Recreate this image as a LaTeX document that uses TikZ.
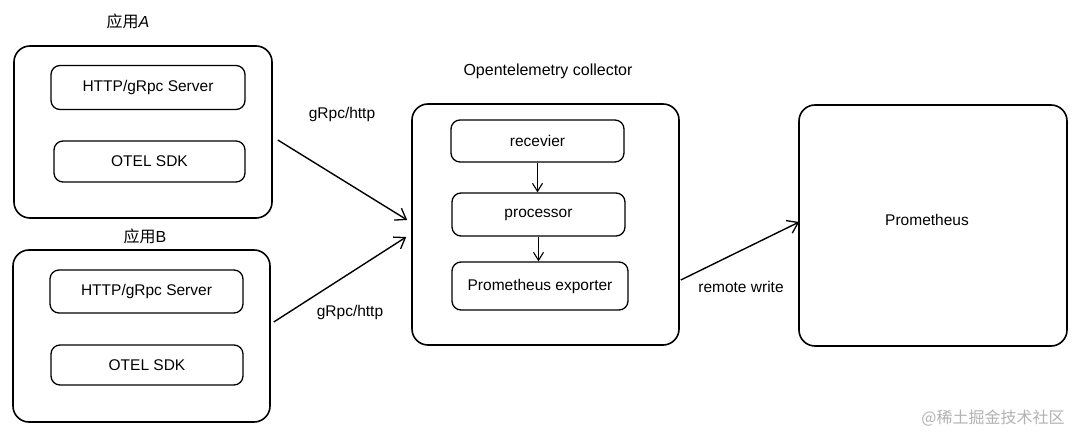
\documentclass[tikz,border=0pt]{standalone}
\usepackage{fontspec}
\setmainfont{Liberation Sans}
\newfontfamily\cjk{Noto Sans CJK SC}
\usetikzlibrary{arrows.meta,calc}
\begin{document}
\begin{tikzpicture}[x=1pt,y=-1pt,
  outerbox/.style={draw,line width=1.6pt,rounded corners=16pt,inner sep=0pt},
  innerbox/.style={draw,line width=1.3pt,rounded corners=9pt,inner sep=0pt,font=\fontsize{15.5}{17}\selectfont},
  lbl/.style={font=\fontsize{15.5}{17}\selectfont,inner sep=0pt},
  ttl/.style={font=\fontsize{16}{18}\selectfont,inner sep=0pt},
  conn/.style={line width=1.4pt,-{Straight Barb[length=10pt,width=14pt,line width=1.3pt]}},
  iconn/.style={line width=1.1pt,-{Straight Barb[length=8pt,width=10pt,line width=1.1pt]}}
]
\useasboundingbox (0,0) rectangle (1080,435);
\fill[white] (0,0) rectangle (1080,435);

% App A
\node[outerbox,minimum width=258pt,minimum height=172pt] (appA) at (143,132) {};
\node[innerbox,minimum width=194pt,minimum height=44pt] (srvA) at (148,87.5) {HTTP/gRpc Server};
\node[innerbox,minimum width=191pt,minimum height=41pt] (sdkA) at (149.5,161.5) {OTEL SDK};
\node[ttl] (tA) at (128,21) {{\cjk 应用}\textit{A}};

% App B
\node[outerbox,minimum width=257pt,minimum height=172pt] (appB) at (141.5,336) {};
\node[innerbox,minimum width=193pt,minimum height=43pt] (srvB) at (146.5,291.5) {HTTP/gRpc Server};
\node[innerbox,minimum width=192pt,minimum height=40pt] (sdkB) at (147,365) {OTEL SDK};
\node[ttl] (tB) at (145,236) {{\cjk 应用}B};

% Collector
\node[outerbox,minimum width=267pt,minimum height=241pt] (coll) at (545.5,224.5) {};
\node[ttl] (tC) at (548,71) {Opentelemetry collector};
\node[innerbox,minimum width=173pt,minimum height=42pt] (recv) at (537.5,141) {recevier};
\node[innerbox,minimum width=173pt,minimum height=43pt] (proc) at (538.5,214.5) {processor};
\node[innerbox,minimum width=176pt,minimum height=48pt] (expo) at (540,286) {Prometheus exporter};

% Prometheus
\node[outerbox,minimum width=268pt,minimum height=241pt] (prom) at (933,225.5) {};
\node[lbl] (promT) at (927,220) {Prometheus};

% connectors
\draw[conn] ($(appA.east)+(5,8)$) -- ($(coll.west)+(-4,-4.5)$);
\draw[conn] ($(appB.east)+(3,-14)$) -- ($(coll.west)+(-5,12.5)$);
\draw[conn] ($(coll.east)+(1,55.5)$) -- ($(prom.west)+(1,-3.5)$);
\draw[iconn] (recv.south) -- (recv.south |- proc.north);
\draw[iconn] (proc.south) -- (proc.south |- expo.north);

% connector labels
\node[lbl] (lA) at (342,114) {gRpc/http};
\node[lbl] (lB) at (350,312) {gRpc/http};
\node[lbl] (lR) at (741,287) {remote write};

% watermark
\node[font=\cjk\fontsize{16}{18}\selectfont,text=black!30,inner sep=0pt] (wm) at (993,418) {@稀土掘金技术社区};
\end{tikzpicture}
\end{document}
